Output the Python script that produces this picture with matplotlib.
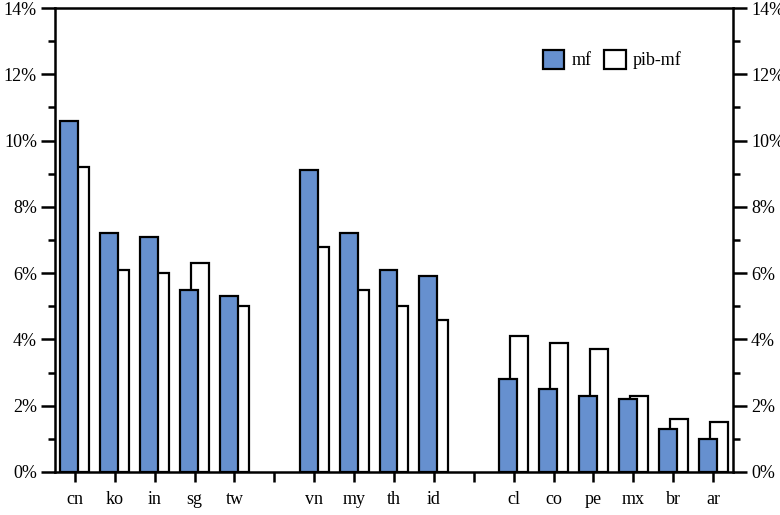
import matplotlib
matplotlib.use("Agg")
import matplotlib.pyplot as plt
from matplotlib.ticker import MultipleLocator, FuncFormatter
import numpy as np

categories = ["cn", "ko", "in", "sg", "tw", "", "vn", "my", "th", "id", "", "cl", "co", "pe", "mx", "br", "ar"]
mf = [10.6, 7.2, 7.1, 5.5, 5.3, None, 9.1, 7.2, 6.1, 5.9, None, 2.8, 2.5, 2.3, 2.2, 1.3, 1.0]
pib_mf = [9.2, 6.1, 6.0, 6.3, 5.0, None, 6.8, 5.5, 5.0, 4.6, None, 4.1, 3.9, 3.7, 2.3, 1.6, 1.5]

plt.rcParams['font.family'] = ['Liberation Serif', 'DejaVu Serif']

fig = plt.figure(figsize=(7.8, 5.15), dpi=100)
ax = fig.add_axes([55/780, 1 - 472/515, (733-55)/780, (472-8)/515])

x = np.arange(len(categories))
idx = [i for i, v in enumerate(mf) if v is not None]
w = 0.45
off = 0.1375
ax.bar(x[idx] + off, [pib_mf[i] for i in idx], width=w, color="white", edgecolor="black", linewidth=1.6, label="pib-mf", zorder=2)
ax.bar(x[idx] - off, [mf[i] for i in idx], width=w, color="#6690CF", edgecolor="black", linewidth=1.6, label="mf", zorder=3)

ax.set_xlim(-0.5, len(categories) - 0.5)
ax.set_ylim(0, 14)
ax.set_xticks(x)
ax.set_xticklabels(categories, fontsize=13)
ax.yaxis.set_major_locator(MultipleLocator(2))
ax.yaxis.set_minor_locator(MultipleLocator(1))
ax.yaxis.set_major_formatter(FuncFormatter(lambda v, p: f"{int(v)}%"))
ax.tick_params(axis="y", which="major", length=10, width=1.8, labelsize=13, left=True, right=True,
               labelleft=True, labelright=True, direction="out", pad=3)
ax.tick_params(axis="y", which="minor", length=5, width=1.8, left=True, right=True, direction="out")
ax.tick_params(axis="x", which="major", length=7, width=1.8, direction="out", pad=7)
for s in ax.spines.values():
    s.set_linewidth(1.8)

handles, labels = ax.get_legend_handles_labels()
ax.legend(handles[::-1], labels[::-1], loc="upper right", bbox_to_anchor=(0.935, 0.925), ncol=2, frameon=False,
          fontsize=13, handlelength=1.2, handleheight=1.2, handletextpad=0.4, columnspacing=0.7,
          borderaxespad=0.0)

fig.savefig("out.png", dpi=100)
